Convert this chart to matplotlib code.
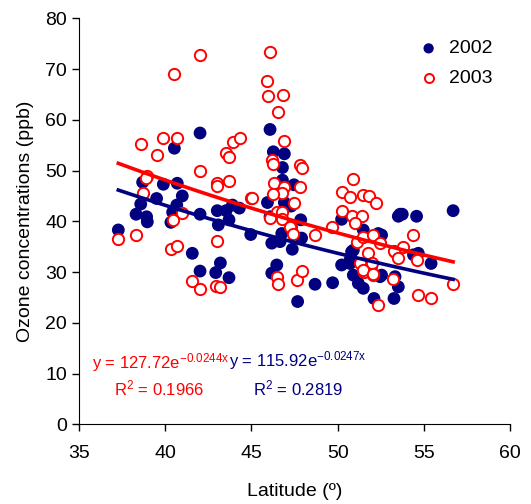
import numpy as np
import matplotlib
matplotlib.use("Agg")
import matplotlib.pyplot as plt

plt.rcParams["font.family"] = ["Liberation Sans", "DejaVu Sans"]
plt.rcParams["mathtext.fontset"] = "custom"
plt.rcParams["mathtext.rm"] = "Liberation Sans"
plt.rcParams["mathtext.default"] = "regular"

# 2002 (filled navy circles)
lat_2002 = [37.28, 38.69, 38.58, 38.31, 38.92, 38.96, 39.89, 39.5, 40.53, 40.7,
            40.99, 40.67, 40.43, 40.33, 42.02, 42.02, 43.02, 43.53, 43.7, 43.08,
            43.9, 44.3, 44.96, 41.57, 42.02, 43.2, 42.93, 43.7, 46.08, 46.27,
            46.91, 46.8, 46.8, 47.47, 45.93, 46.91, 47.3, 46.08, 47.86, 50.23,
            53.62, 46.18, 46.76, 46.66, 47.37, 47.91, 46.47, 46.18, 47.68, 48.69,
            49.71, 50.23, 50.81, 50.72, 50.91, 51.2, 51.49, 51.49, 52.11, 52.36,
            52.55, 53.27, 53.52, 53.75, 54.58, 56.7, 54.4, 54.68, 55.42, 52.55,
            53.33, 53.52, 50.91, 50.72, 52.46, 51.97]
o3_2002 = [38.3, 47.7, 43.4, 41.4, 40.9, 39.9, 47.3, 44.5, 54.4, 47.5,
           45.0, 43.2, 41.8, 39.8, 57.4, 41.4, 42.1, 42.1, 40.3, 39.3,
           43.2, 42.6, 37.4, 33.7, 30.2, 31.8, 29.9, 28.9, 58.1, 53.7,
           53.3, 50.6, 48.1, 47.2, 43.7, 43.7, 43.0, 40.9, 40.3, 40.4,
           41.4, 35.7, 37.6, 36.0, 34.5, 36.7, 31.4, 29.8, 24.2, 27.6,
           27.9, 31.4, 34.0, 31.7, 29.4, 27.8, 26.8, 38.3, 24.8, 37.6,
           29.4, 24.8, 41.0, 41.4, 41.0, 42.1, 33.4, 33.7, 31.7, 37.3,
           29.1, 27.1, 34.3, 32.4, 29.1, 31.1]

# 2003 (open red circles)
lat_2003 = [42.02, 40.53, 38.58, 39.89, 40.7, 39.5, 42.02, 38.96, 38.89, 38.69,
            43.02, 43.02, 43.7, 43.51, 43.7, 43.95, 44.34, 44.96, 40.99, 40.43,
            37.28, 38.31, 40.33, 40.7, 43.02, 41.57, 42.02, 42.93, 43.2, 46.08,
            45.89, 45.98, 46.81, 46.56, 46.91, 46.18, 46.27, 47.82, 47.95, 46.33,
            46.91, 46.76, 46.27, 47.82, 47.47, 45.02, 46.47, 46.8, 46.08, 46.76,
            50.91, 50.23, 50.72, 51.45, 51.84, 52.21, 50.23, 50.81, 51.39, 51.0,
            47.3, 49.65, 47.24, 47.4, 48.69, 46.47, 46.56, 47.62, 47.95, 51.3,
            51.55, 52.07, 52.36, 53.23, 51.1, 51.49, 52.07, 52.46, 51.78, 53.33,
            54.4, 53.77, 53.29, 53.52, 54.58, 54.68, 55.42, 56.7, 51.97, 51.49,
            52.03]
o3_2003 = [72.8, 69.0, 55.2, 56.5, 56.5, 53.1, 49.9, 49.0, 48.5, 45.6,
           47.6, 47.0, 48.0, 53.4, 52.7, 55.6, 56.5, 44.5, 41.6, 40.3,
           36.5, 37.4, 34.5, 35.2, 36.1, 28.3, 26.7, 27.3, 27.0, 73.4,
           67.7, 64.6, 64.9, 61.5, 55.9, 52.1, 51.3, 51.1, 50.6, 47.5,
           46.8, 45.6, 45.3, 46.8, 43.7, 44.5, 41.9, 41.9, 40.7, 40.4,
           48.3, 45.8, 44.8, 45.2, 44.9, 43.7, 42.0, 41.1, 41.1, 39.6,
           38.8, 38.8, 38.9, 37.6, 37.3, 29.0, 27.6, 28.4, 30.2, 31.7,
           30.1, 29.4, 23.5, 28.6, 36.0, 37.0, 37.3, 35.7, 33.7, 34.0,
           37.3, 34.9, 34.2, 32.7, 32.4, 25.5, 24.8, 27.6, 31.7, 30.5,
           29.6]

# exponential trend coefficients (y = a * exp(b x))
fit_2002 = (115.92, -0.0247)
fit_2003 = (127.72, -0.0244)

navy = "#000080"
red = "#FF0000"

fig = plt.figure(figsize=(5.31, 5.04), dpi=100)
ax = fig.add_axes([0.1488, 0.158, 0.8117, 0.8057])

ax.scatter(lat_2002, o3_2002, s=85, color=navy, edgecolors="none", label="2002", zorder=3)
ax.scatter(lat_2003, o3_2003, s=66, facecolors="white", edgecolors=red, linewidths=1.4,
           label="2003", zorder=4)

xs = np.linspace(min(lat_2003), max(lat_2003), 100)
ax.plot(xs, fit_2003[0] * np.exp(fit_2003[1] * xs), color=red, lw=2.6, zorder=5)
xs = np.linspace(min(lat_2002), max(lat_2002), 100)
ax.plot(xs, fit_2002[0] * np.exp(fit_2002[1] * xs), color=navy, lw=2.6, zorder=5)

ax.set_xlim(35, 60)
ax.set_ylim(0, 80)
ax.set_xticks(range(35, 61, 5))
ax.set_yticks(range(0, 81, 10))
ax.tick_params(labelsize=14, length=5, width=1, direction="out")
ax.tick_params(axis="x", pad=10)
ax.spines["top"].set_visible(False)
ax.spines["right"].set_visible(False)
ax.set_xlabel("Latitude (º)", fontsize=14, labelpad=15)
ax.set_ylabel("Ozone concentrations (ppb)", fontsize=14, labelpad=8)

ax.legend(loc="upper right", bbox_to_anchor=(1.0, 0.99), frameon=False, fontsize=14,
          handletextpad=0.05, labelspacing=0.6, markerscale=0.8)

# equation labels, x given as offset from 35
ax.text(35 + 0.75, 12.2, "y = 127.72e$^{-0.0244x}$", color=red, fontsize=12, va="center")
ax.text(35 + 2.05, 7.1, "R$^{2}$ = 0.1966", color=red, fontsize=12, va="center")
ax.text(35 + 8.7, 12.6, "y = 115.92e$^{-0.0247x}$", color=navy, fontsize=12, va="center")
ax.text(35 + 10.1, 7.1, "R$^{2}$ = 0.2819", color=navy, fontsize=12, va="center")

fig.savefig("out.png", dpi=100)
